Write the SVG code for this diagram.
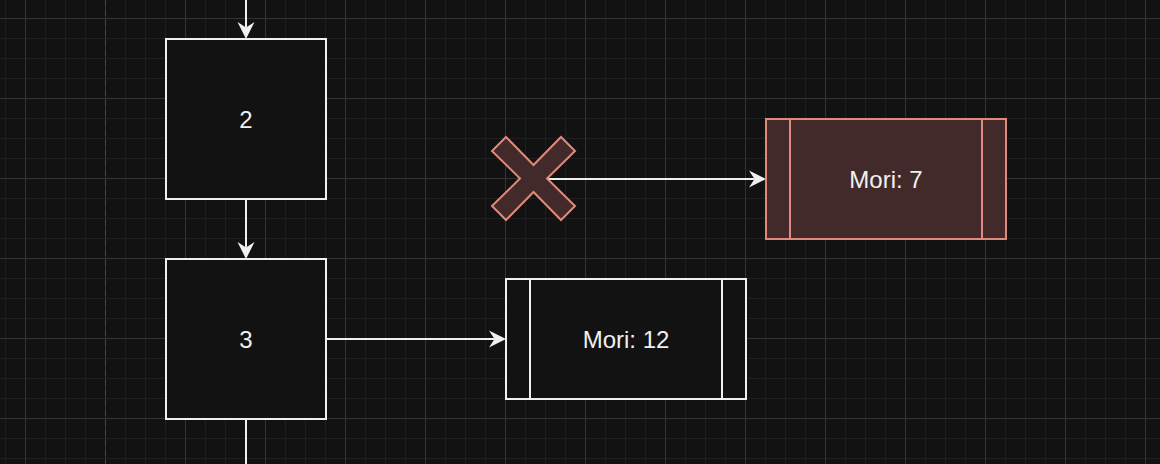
<svg xmlns="http://www.w3.org/2000/svg" width="1160" height="464" viewBox="0 0 1160 464">
  <defs>
    <pattern id="grid" patternUnits="userSpaceOnUse" x="25" y="18" width="80" height="80">
      <rect width="80" height="80" fill="#121212"/>
      <path d="M20.5 0V80M40.5 0V80M60.5 0V80M0 20.5H80M0 40.5H80M0 60.5H80" stroke="#1f1f1f" stroke-width="1" fill="none"/>
      <path d="M0.5 0V80M0 0.5H80" stroke="#333333" stroke-width="1" fill="none"/>
    </pattern>
    <marker id="arrow" markerUnits="userSpaceOnUse" viewBox="-18 -10 20 20" markerWidth="20" markerHeight="20" refX="-11.5" refY="0" orient="auto">
      <path d="M0 0L-17 -8.5L-11.5 0L-17 8.5Z" fill="#f0f0f0"/>
    </marker>
    <style>
      .box { fill: #121212; stroke: #f0f0f0; stroke-width: 2; }
      .red { fill: #432a2a; stroke: #e08a7c; stroke-width: 2; }
      .edge { fill: none; stroke: #f0f0f0; stroke-width: 2; }
      .lbl { font-family: "Liberation Sans", Arial, sans-serif; font-size: 24px; fill: #f0f0f0; text-anchor: middle; }
    </style>
  </defs>
  <rect width="1160" height="464" fill="url(#grid)"/>
  <line x1="105.5" y1="0" x2="105.5" y2="464" stroke="#454545" stroke-width="1" stroke-dasharray="6 4"/>

  <g id="connectors">
    <path class="edge" d="M246 0L246 27.5" marker-end="url(#arrow)"/>
    <path class="edge" d="M246 199L246 247.5" marker-end="url(#arrow)"/>
    <path class="edge" d="M246 419L246 464"/>
    <path class="edge" d="M326 339L494.5 339" marker-end="url(#arrow)"/>
    <path class="edge" d="M547 179L754.5 179" marker-end="url(#arrow)"/>
  </g>

  <g id="node-2">
    <rect class="box" x="166" y="39" width="160" height="160"/>
    <text class="lbl" x="246" y="127.6">2</text>
  </g>
  <g id="node-3">
    <rect class="box" x="166" y="259" width="160" height="160"/>
    <text class="lbl" x="246" y="347.6">3</text>
  </g>
  <g id="node-mori12">
    <rect class="box" x="506" y="279" width="240" height="120"/>
    <path class="box" d="M530 279V399M722 279V399"/>
    <text class="lbl" x="626" y="347.6">Mori: 12</text>
  </g>
  <g id="node-x">
    <path class="red" d="M533.5 165L506 137L492 151L520 178.5L492 206L506 220L533.5 192L561 220L575 206L547 178.5L575 151L561 137Z"/>
  </g>
  <g id="node-mori7">
    <rect class="red" x="766" y="119" width="240" height="120"/>
    <path class="red" d="M790 119V239M982 119V239"/>
    <text class="lbl" x="886" y="187.6">Mori: 7</text>
  </g>
</svg>
